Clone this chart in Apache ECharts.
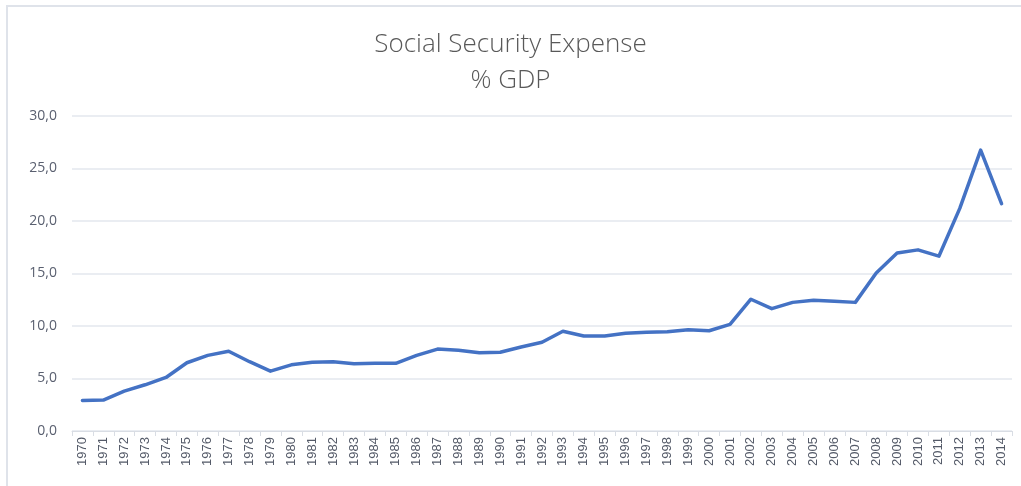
<!DOCTYPE html>
<html>
<head>
<meta charset="utf-8">
<script src="https://cdn.jsdelivr.net/npm/echarts@6/dist/echarts.min.js"></script>
<style>
  html, body { margin: 0; padding: 0; background: #ffffff; }
  #chart { width: 1021px; height: 486px; }
</style>
</head>
<body>
<div id="chart"></div>
<script>
// Years on the category axis
const years = [
  '1970','1971','1972','1973','1974','1975','1976','1977','1978','1979',
  '1980','1981','1982','1983','1984','1985','1986','1987','1988','1989',
  '1990','1991','1992','1993','1994','1995','1996','1997','1998','1999',
  '2000','2001','2002','2003','2004','2005','2006','2007','2008','2009',
  '2010','2011','2012','2013','2014'
];

// Social security expense, % of GDP
const expensePct = [
  2.9, 2.95, 3.8, 4.4, 5.1, 6.5, 7.2, 7.6, 6.6, 5.7,
  6.3, 6.55, 6.6, 6.4, 6.45, 6.45, 7.2, 7.8, 7.7, 7.45,
  7.5, 8.0, 8.45, 9.5, 9.05, 9.05, 9.3, 9.4, 9.45, 9.65,
  9.55, 10.15, 12.55, 11.65, 12.25, 12.45, 12.35, 12.25, 15.05, 16.95,
  17.25, 16.65, 21.2, 26.75, 21.65
];

// Value axis ticks
const yTicks = { min: 0, max: 30, step: 5 };

const chart = echarts.init(document.getElementById('chart'), null, { renderer: 'canvas' });

chart.setOption({
  backgroundColor: '#ffffff',
  animation: false,
  title: {
    text: 'Social Security Expense\n% GDP',
    left: 'center',
    top: 22,
    textStyle: {
      fontFamily: 'Open Sans',
      fontWeight: 300,
      fontSize: 26,
      lineHeight: 36,
      color: '#595959'
    }
  },
  graphic: [
    // thin frame along the top and left edges
    { type: 'line', shape: { x1: 6, y1: 6, x2: 1021, y2: 6 }, style: { stroke: '#dfe3ea', lineWidth: 2 } },
    { type: 'line', shape: { x1: 7, y1: 6, x2: 7, y2: 486 }, style: { stroke: '#dfe3ea', lineWidth: 2 } }
  ],
  grid: { left: 72, right: 9, top: 116, bottom: 55, containLabel: false },
  xAxis: {
    type: 'category',
    data: years,
    boundaryGap: true,
    axisLine: { lineStyle: { color: '#d9dde4', width: 1 } },
    axisTick: { show: true, alignWithLabel: false, length: 5, lineStyle: { color: '#d9dde4' } },
    axisLabel: {
      rotate: 90,
      interval: 0,
      margin: 6,
      fontFamily: 'Liberation Sans',
      fontSize: 13,
      color: '#545a68'
    }
  },
  yAxis: {
    type: 'value',
    min: yTicks.min,
    max: yTicks.max,
    interval: yTicks.step,
    axisLine: { show: false },
    axisTick: { show: false },
    splitLine: { lineStyle: { color: '#e3e7ee', width: 1.5 } },
    axisLabel: {
      margin: 15,
      fontFamily: 'Open Sans',
      fontSize: 14,
      color: '#5a6070',
      formatter: v => v.toFixed(1).replace('.', ',')
    }
  },
  series: [{
    type: 'line',
    data: expensePct,
    symbol: 'none',
    smooth: false,
    lineStyle: { color: '#4472c4', width: 3.5, join: 'round', cap: 'round' }
  }]
});
</script>
</body>
</html>
